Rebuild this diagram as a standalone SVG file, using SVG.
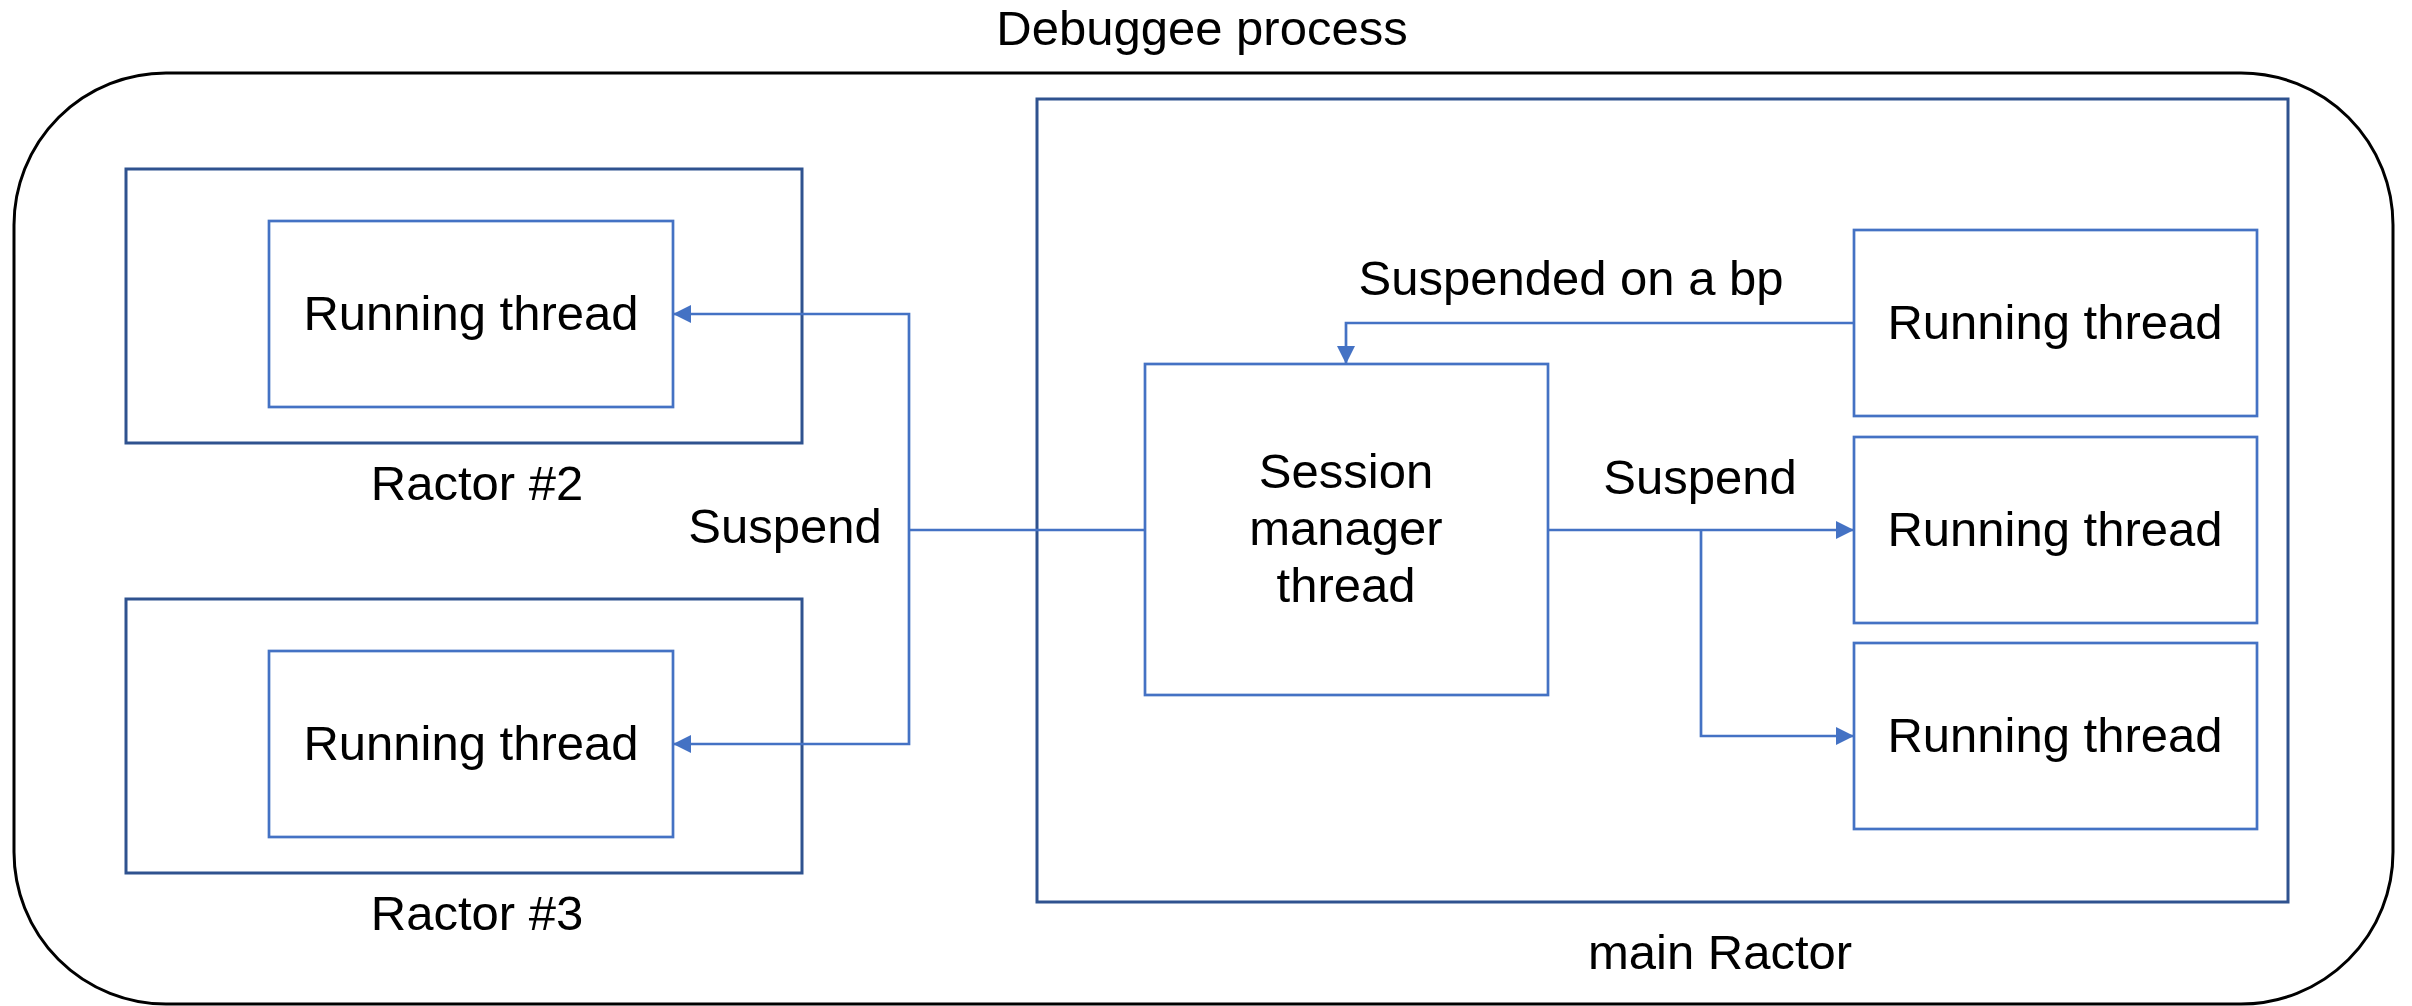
<svg xmlns="http://www.w3.org/2000/svg" width="2412" height="1006" viewBox="0 0 2412 1006">
<style>
text{font-family:"Liberation Sans",Arial,sans-serif;font-size:49px;fill:#000;text-anchor:middle}
.outer{fill:none;stroke:#000;stroke-width:3}
.ractor{fill:#fff;stroke:#2F528F;stroke-width:3}
.thr{fill:#fff;stroke:#4472C4;stroke-width:2.7}
.conn{fill:none;stroke:#4472C4;stroke-width:2.7}
</style>
<defs>
<marker id="ah" markerUnits="userSpaceOnUse" markerWidth="18" markerHeight="18" viewBox="0 0 16 16" refX="16" refY="8" orient="auto">
<path d="M0,0 L16,8 L0,16 Z" fill="#4472C4"/>
</marker>
</defs>
<g id="debuggee-process">
<rect class="outer" x="14" y="73" width="2379" height="931" rx="152" ry="152"/>
<text x="1202" y="45">Debuggee process</text>
</g>
<g id="ractor2">
<rect class="ractor" x="126" y="169" width="676" height="274"/>
<text x="477" y="500">Ractor #2</text>
</g>
<g id="ractor3">
<rect class="ractor" x="126" y="599" width="676" height="274"/>
<text x="477" y="930">Ractor #3</text>
</g>
<g id="main-ractor">
<rect class="ractor" x="1037" y="99" width="1251" height="803"/>
<text x="1720" y="969">main Ractor</text>
</g>
<g id="r2-thread">
<rect class="thr" x="269" y="221" width="404" height="186"/>
<text x="471" y="330">Running thread</text>
</g>
<g id="r3-thread">
<rect class="thr" x="269" y="651" width="404" height="186"/>
<text x="471" y="760">Running thread</text>
</g>
<g id="session-manager">
<rect class="thr" x="1145" y="364" width="403" height="331"/>
<text x="1346" y="488">Session</text>
<text x="1346" y="545">manager</text>
<text x="1346" y="602">thread</text>
</g>
<g id="main-thread1">
<rect class="thr" x="1854" y="230" width="403" height="186"/>
<text x="2055" y="339">Running thread</text>
</g>
<g id="main-thread2">
<rect class="thr" x="1854" y="437" width="403" height="186"/>
<text x="2055" y="546">Running thread</text>
</g>
<g id="main-thread3">
<rect class="thr" x="1854" y="643" width="403" height="186"/>
<text x="2055" y="752">Running thread</text>
</g>
<g id="connectors">
<polyline class="conn" points="1145,530 909,530"/>
<polyline class="conn" points="909,530 909,314 673,314" marker-end="url(#ah)"/>
<polyline class="conn" points="909,530 909,744 673,744" marker-end="url(#ah)"/>
<polyline class="conn" points="1854,323 1346,323 1346,364" marker-end="url(#ah)"/>
<polyline class="conn" points="1548,530 1854,530" marker-end="url(#ah)"/>
<polyline class="conn" points="1701,530 1701,736 1854,736" marker-end="url(#ah)"/>
<text x="785" y="543">Suspend</text>
<text x="1700" y="494">Suspend</text>
<text x="1571" y="295">Suspended on a bp</text>
</g>
</svg>
